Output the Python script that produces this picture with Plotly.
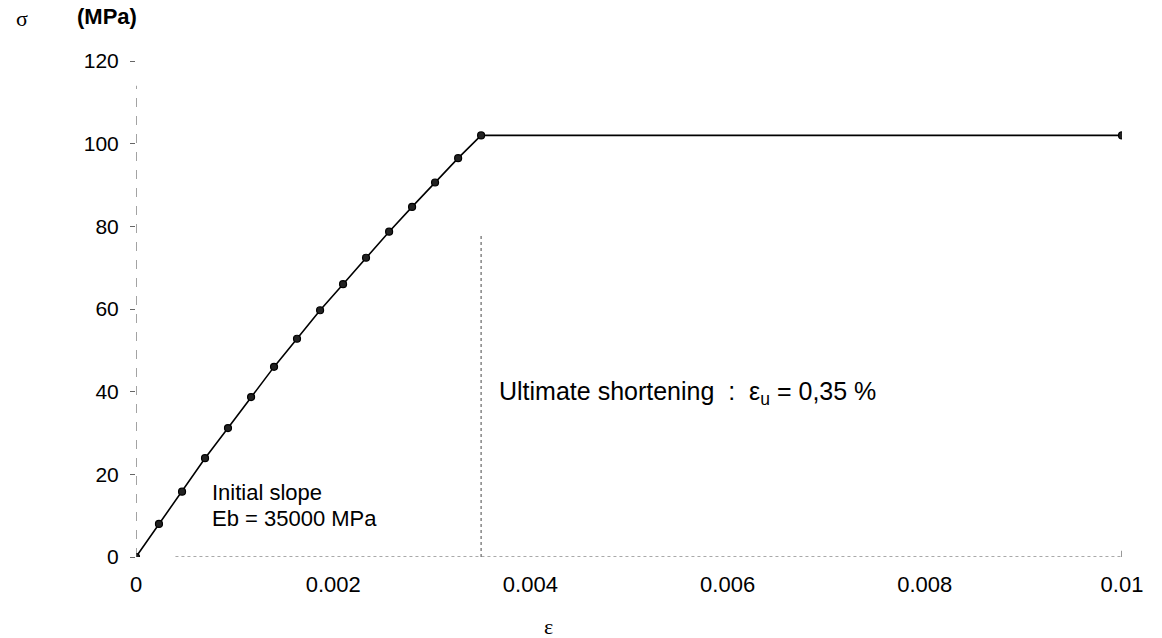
import plotly.graph_objects as go

# Stress-strain law of concrete in compression
strain = [0.0, 0.000233, 0.000467, 0.0007, 0.000933, 0.001167, 0.0014, 0.001633,
          0.001867, 0.0021, 0.002333, 0.002567, 0.0028, 0.003033, 0.003267, 0.0035, 0.01]
stress = [0.0, 8.0, 15.8, 23.9, 31.2, 38.7, 46.0, 52.8,
          59.7, 66.0, 72.4, 78.7, 84.7, 90.6, 96.5, 102.0, 102.0]

x_ticks = [0, 0.002, 0.004, 0.006, 0.008, 0.01]
x_tick_text = ["0", "0.002", "0.004", "0.006", "0.008", "0.01"]
y_ticks = [0, 20, 40, 60, 80, 100, 120]

eps_u = 0.0035
guide_top = 78

font_main = "Liberation Sans, Arial, sans-serif"
font_serif = "Liberation Serif, Times New Roman, serif"

fig = go.Figure()

fig.add_trace(go.Scatter(
    x=strain, y=stress, mode="lines+markers",
    line=dict(color="black", width=1.6),
    marker=dict(symbol="circle", size=7, color="#222", line=dict(color="black", width=1.2)),
    showlegend=False, hoverinfo="skip",
))

# faint broken axis lines
fig.add_shape(type="line", xref="x", yref="y", x0=0, x1=0, y0=0, y1=114,
              line=dict(color="#666", width=1.2, dash="dash"))
fig.add_shape(type="line", xref="x", yref="y", x0=0.0004, x1=0.01, y0=0, y1=0,
              line=dict(color="#555", width=1.2, dash="dot"))
fig.add_shape(type="line", xref="x", yref="y", x0=0.01, x1=0.01, y0=0, y1=1.5,
              line=dict(color="#555", width=1.2))
# vertical guide at the ultimate strain
fig.add_shape(type="line", xref="x", yref="y", x0=eps_u, x1=eps_u, y0=0, y1=guide_top,
              line=dict(color="#666", width=1.2, dash="dot"))

fig.add_annotation(x=0.00075, y=15.7, xref="x", yref="y", xanchor="left", yanchor="middle",
                   text="Initial slope", showarrow=False,
                   font=dict(family=font_main, size=22, color="black"))
fig.add_annotation(x=0.00075, y=9.2, xref="x", yref="y", xanchor="left", yanchor="middle",
                   text="Eb = 35000 MPa", showarrow=False,
                   font=dict(family=font_main, size=22, color="black"))
fig.add_annotation(x=0.00366, y=39.7, xref="x", yref="y", xanchor="left", yanchor="middle",
                   text="Ultimate shortening  :  \u03b5<sub>u</sub> = 0,35 %", showarrow=False,
                   font=dict(family=font_main, size=25, color="black"))

# axis titles
fig.add_annotation(x=-0.116, y=1.085, xref="paper", yref="paper",
                   xanchor="center", yanchor="middle", text="\u03c3", showarrow=False,
                   font=dict(family=font_serif, size=22, color="black"))
fig.add_annotation(x=-0.029, y=1.09, xref="paper", yref="paper",
                   xanchor="center", yanchor="middle", text="<b>(MPa)</b>",
                   showarrow=False, font=dict(family=font_main, size=22, color="black"))
fig.add_annotation(x=0.00418, y=-0.141, xref="x", yref="paper",
                   xanchor="center", yanchor="middle", text="\u03b5", showarrow=False,
                   font=dict(family=font_serif, size=22, color="black"))

fig.update_layout(
    width=1162, height=638,
    margin=dict(l=136, r=40, t=61, b=81),
    paper_bgcolor="white", plot_bgcolor="white",
    xaxis=dict(range=[0, 0.01], tickvals=x_ticks, ticktext=x_tick_text,
               showgrid=False, zeroline=False, showline=False, ticks="",
               ticklabelstandoff=12,
               tickfont=dict(family=font_main, size=22, color="black")),
    yaxis=dict(range=[0, 120], tickvals=y_ticks, showgrid=False, zeroline=False,
               showline=False, ticks="outside", ticklen=5, tickcolor="#666", tickwidth=1,
               ticklabelstandoff=7,
               tickfont=dict(family=font_main, size=21, color="black")),
)

fig.write_html("out.html")
